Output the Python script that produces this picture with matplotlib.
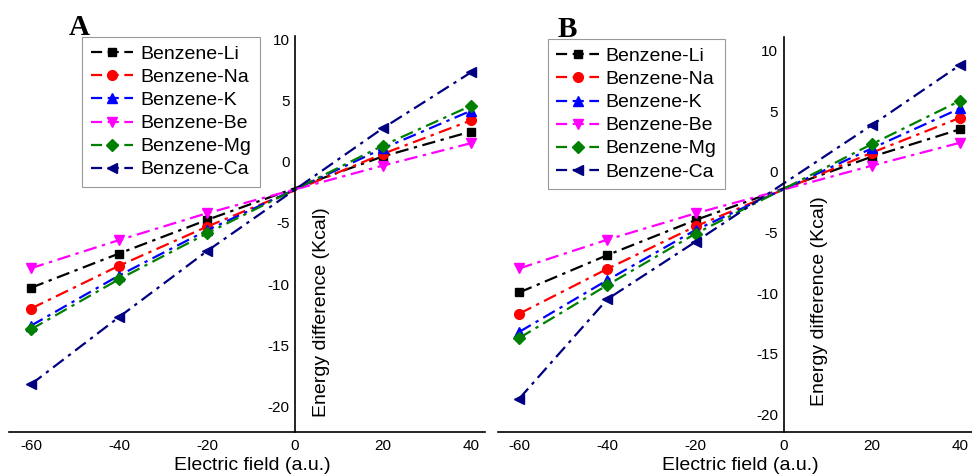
import matplotlib
matplotlib.use("Agg")
import matplotlib.pyplot as plt
from matplotlib.lines import Line2D

plt.rcParams['font.family'] = ['Liberation Sans', 'DejaVu Sans']
plt.rcParams['axes.unicode_minus'] = False

field = [-60, -40, -20, 20, 40]
series = ["Benzene-Li", "Benzene-Na", "Benzene-K", "Benzene-Be", "Benzene-Mg", "Benzene-Ca"]

# Panel A
A_Li = [-10.3, -7.5, -4.75, 0.45, 2.48]
A_Na = [-12.0, -8.5, -5.3, 0.66, 3.39]
A_K = [-13.4, -9.3, -5.6, 1.1, 4.18]
A_Be = [-8.7, -6.4, -4.2, -0.3, 1.53]
A_Mg = [-13.7, -9.6, -5.85, 1.34, 4.59]
A_Ca = [-18.2, -12.7, -7.3, 2.76, 7.32]

# Panel B
B_Li = [-9.95, -6.87, -3.98, 1.24, 3.5]
B_Na = [-11.7, -8.0, -4.5, 1.57, 4.45]
B_K = [-13.2, -8.93, -4.8, 1.93, 5.22]
B_Be = [-7.97, -5.6, -3.43, 0.5, 2.39]
B_Mg = [-13.7, -9.34, -5.1, 2.28, 5.85]
B_Ca = [-18.7, -10.5, -5.77, 3.85, 8.8]

colors = ["#000000", "#ff0000", "#0000ff", "#ff00ff", "#008000", "#000080"]
markers = ["s", "o", "^", "v", "D", "<"]
msizes = [5.5, 7, 7, 7, 6, 7]

yticks = [-20, -15, -10, -5, 0, 5, 10]
xticks = [-60, -40, -20, 0, 20, 40]

W, H = 972, 476
fig = plt.figure(figsize=(W / 100, H / 100), dpi=100)


def make_panel(rect, data, xlim, ylim, letter, letter_xy, leg_anchor, ylab_xy, xlab_x):
    ax = fig.add_axes(rect)
    for vals, c, m, ms in zip(data, colors, markers, msizes):
        ax.plot(field, vals, color=c, marker=m, markersize=ms, lw=1.6,
                dashes=(6, 2.5, 1.5, 2.5), clip_on=False)
    ax.set_xlim(*xlim)
    ax.set_ylim(*ylim)
    ax.spines['top'].set_visible(False)
    ax.spines['right'].set_visible(False)
    ax.spines['left'].set_position(('data', 0))
    ax.spines['left'].set_linewidth(1.2)
    ax.spines['bottom'].set_linewidth(1.2)
    ax.set_xticks(xticks)
    ax.set_yticks(yticks)
    ax.tick_params(axis='both', length=0, labelsize=11)
    ax.tick_params(axis='x', pad=5)
    ax.tick_params(axis='y', pad=4)
    ax.text(ylab_xy[0], ylab_xy[1], "Energy difference (Kcal)", rotation=90,
            ha='center', va='center', fontsize=14)
    fig.text(xlab_x / W, 1 - 466 / H, "Electric field (a.u.)", ha='center',
             va='center', fontsize=14)
    fig.text(letter_xy[0] / W, 1 - letter_xy[1] / H, letter, fontsize=21,
             fontweight='bold', family='Liberation Serif', ha='left', va='baseline')
    handles = [Line2D([], [], color=c, marker=m, markersize=ms, lw=1.6,
                      dashes=(5, 2.5)) for c, m, ms in zip(colors, markers, msizes)]
    leg = ax.legend(handles, series, loc='upper left', bbox_to_anchor=leg_anchor,
                    borderaxespad=0, fontsize=14, handlelength=2.2,
                    handletextpad=0.35, labelspacing=0.28, borderpad=0.45,
                    fancybox=False, framealpha=1, edgecolor='#999999')
    leg.get_frame().set_linewidth(0.8)
    return ax


axA = make_panel([9 / W, 1 - 432 / H, 476 / W, 396 / H],
                 [A_Li, A_Na, A_K, A_Be, A_Mg, A_Ca],
                 (-65, 43.2), (-22.1, 10.3), "A", (69, 35),
                 (0.153, 0.998), (6.1, -12.3), 252.5)
axB = make_panel([497.7 / W, 1 - 431.7 / H, 474.3 / W, 394.4 / H],
                 [B_Li, B_Na, B_K, B_Be, B_Mg, B_Ca],
                 (-64.9, 42.7), (-21.43, 11.08), "B", (558, 37),
                 (0.105, 0.996), (8.0, -10.66), 740)

fig.savefig("out.png", dpi=100)
